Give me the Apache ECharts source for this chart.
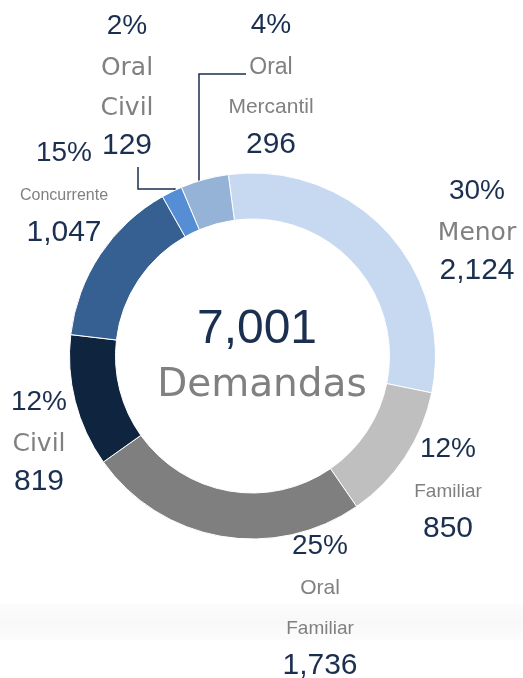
<!DOCTYPE html>
<html><head><meta charset="utf-8">
<script src="https://cdn.jsdelivr.net/npm/echarts@6/dist/echarts.min.js"></script>
<style>html,body{margin:0;padding:0;background:#fff}#c{width:523px;height:678px}</style>
</head><body><div id="c"></div>
<script>
// ---- data ----
const categories = ['Menor', 'Familiar', 'Oral Familiar', 'Civil', 'Concurrente', 'Oral Civil', 'Oral Mercantil'];
const values = [2124, 850, 1736, 819, 1047, 129, 296];
const centerLabel = 'Demandas';

// ---- styles ----
const colors = ['#C6D9F1', '#BFBFBF', '#7F7F7F', '#0F243E', '#376092', '#558ED5', '#95B3D7'];
const NAVY = '#1b2f50', GRAY = '#808080';
const CX = 252.5, CY = 356;
// label block centres
const LX = [477, 448, 320, 39, 64, 127, 271];
const LY = [229, 487, 604, 440, 191, 84, 83];
// rich style per name line
const nameStyles = [['n'], ['c19'], ['c21', 'c19'], ['n'], ['c16'], ['n', 'n'], ['c23', 'c21']];
const leaders = {
  5: [[175, 212], [175, 189], [138, 189], [138, 167]],
  6: [[199, 197], [199, 74], [246, 74]]
};

const total = values.reduce((a, b) => a + b, 0);
const fmt = v => v.toLocaleString('en-US');

const data = categories.map((name, i) => ({
  name, value: values[i],
  itemStyle: { color: colors[i] },
  labelLine: { show: !!leaders[i] }
}));

const NUMF = '"Liberation Sans", Arial, sans-serif';
const NAMEF = '"DejaVu Sans", sans-serif';
const rich = {
  p: { fontFamily: NUMF, fontSize: 28, color: NAVY, lineHeight: 44, align: 'center' },
  v: { fontFamily: NUMF, fontSize: 30, color: NAVY, lineHeight: 35, align: 'center' },
  n: { fontFamily: NAMEF, fontSize: 25, color: GRAY, lineHeight: 40, align: 'center' },
  c23: { fontFamily: NUMF, fontSize: 23, color: GRAY, lineHeight: 40, align: 'center' },
  c21: { fontFamily: NUMF, fontSize: 21, color: GRAY, lineHeight: 40, align: 'center' },
  c19: { fontFamily: NUMF, fontSize: 19, color: GRAY, lineHeight: 40, align: 'center' },
  c16: { fontFamily: NUMF, fontSize: 16, color: GRAY, lineHeight: 40, align: 'center' }
};

const chart = echarts.init(document.getElementById('c'), null, { renderer: 'canvas' });
chart.setOption({
  backgroundColor: '#ffffff',
  animation: false,
  graphic: [
    { type: 'rect', z: -10, shape: { x: 0, y: 604, width: 523, height: 36 },
      style: { fill: new echarts.graphic.LinearGradient(0, 0, 0, 1, [
        { offset: 0, color: '#fcfcfc' }, { offset: 0.5, color: '#f8f8f8' }, { offset: 1, color: '#fcfcfc' }]) } },
    { type: 'text', x: 257, y: 330, z: 10,
      style: { text: fmt(total), fontFamily: NUMF, fontSize: 48, fill: NAVY, textAlign: 'center', textVerticalAlign: 'middle' } },
    { type: 'text', x: 262, y: 386, z: 10,
      style: { text: centerLabel, fontFamily: NAMEF, fontSize: 39, fill: GRAY, textAlign: 'center', textVerticalAlign: 'middle' } }
  ],
  series: [{
    type: 'pie',
    center: [CX, CY],
    radius: [137, 183],
    startAngle: 97.6,
    clockwise: true,
    avoidLabelOverlap: false,
    silent: true,
    itemStyle: { borderColor: '#ffffff', borderWidth: 1 },
    label: {
      show: true,
      position: 'outside',
      formatter: p => {
        const i = p.dataIndex;
        const pct = Math.round(values[i] / total * 100) + '%';
        const parts = categories[i].split(' ');
        const lines = ['{p|' + pct + '}'];
        parts.forEach((w, k) => lines.push('{' + nameStyles[i][k] + '|' + w + '}'));
        lines.push('{v|' + fmt(values[i]) + '}');
        return lines.join('\n');
      },
      rich
    },
    labelLine: { show: true, lineStyle: { color: NAVY, width: 1.5 } },
    labelLayout: p => {
      const i = p.dataIndex;
      const o = { x: LX[i], y: LY[i], align: 'center', verticalAlign: 'middle' };
      if (leaders[i]) o.labelLinePoints = leaders[i];
      return o;
    },
    emphasis: { disabled: true },
    data
  }]
});
</script></body></html>
